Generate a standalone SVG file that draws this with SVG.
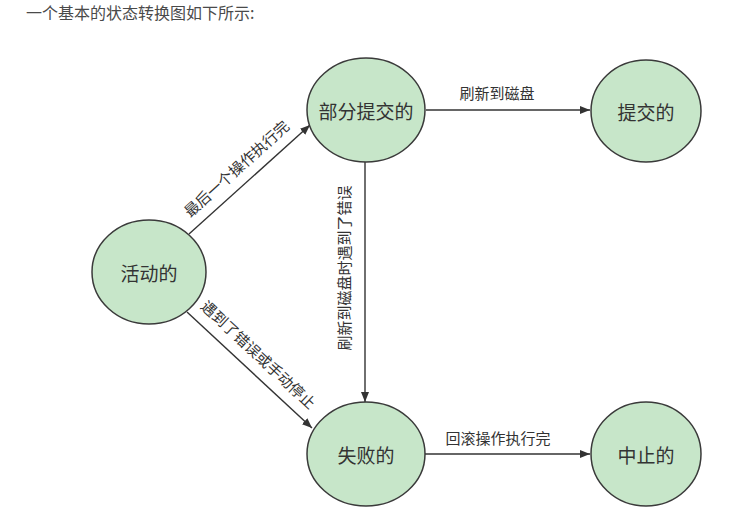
<svg xmlns="http://www.w3.org/2000/svg" width="754" height="531" viewBox="0 0 754 531">
<style>
.node ellipse{fill:#c7e6c9;stroke:#3a3a3a;stroke-width:1.5}
.node text{font-family:"Noto Sans CJK SC","Noto Sans",sans-serif;font-size:19px;fill:#333;text-anchor:middle;dominant-baseline:central}
.edge{stroke:#333;stroke-width:1.4;fill:none;marker-end:url(#arr)}
.lbl{font-family:"Noto Sans CJK SC","Noto Sans",sans-serif;font-size:15px;fill:#333;text-anchor:middle;dominant-baseline:central}
.hdr{font-family:"Noto Sans CJK SC","Noto Sans",sans-serif;font-size:16px;fill:#4a4a4a}
</style>
<defs>
<marker id="arr" viewBox="0 0 10 10" refX="10" refY="5" markerWidth="10" markerHeight="10" markerUnits="userSpaceOnUse" orient="auto">
<path d="M0,1 L10,5 L0,9 Z" fill="#333"/>
</marker>
</defs>
<rect width="754" height="531" fill="#fff"/>
<text class="hdr" x="26" y="19">一个基本的状态转换图如下所示:</text>
<g id="connectors">
<line class="edge" x1="189" y1="234" x2="310" y2="125"/>
<line class="edge" x1="426" y1="110" x2="590" y2="110"/>
<line class="edge" x1="365" y1="162" x2="365" y2="402"/>
<line class="edge" x1="187" y1="312" x2="312" y2="428"/>
<line class="edge" x1="425" y1="454" x2="590" y2="454"/>
<text class="lbl" x="236" y="168" transform="rotate(-42 236 168)">最后一个操作执行完</text>
<text class="lbl" x="497" y="92">刷新到磁盘</text>
<text class="lbl" x="343" y="268" transform="rotate(-90 343 268)">刷新到磁盘时遇到了错误</text>
<text class="lbl" x="259" y="354" transform="rotate(43 259 354)">遇到了错误或手动停止</text>
<text class="lbl" x="498" y="437">回滚操作执行完</text>
</g>
<g id="active" class="node"><ellipse cx="149" cy="272" rx="57" ry="52"/><text x="149" y="272">活动的</text></g>
<g id="partial" class="node"><ellipse cx="366" cy="110" rx="59" ry="52"/><text x="366" y="110">部分提交的</text></g>
<g id="committed" class="node"><ellipse cx="646" cy="111" rx="55" ry="51"/><text x="646" y="111">提交的</text></g>
<g id="failed" class="node"><ellipse cx="366" cy="454" rx="59" ry="52"/><text x="366" y="454">失败的</text></g>
<g id="aborted" class="node"><ellipse cx="646" cy="454" rx="55" ry="52"/><text x="646" y="454">中止的</text></g>
</svg>
